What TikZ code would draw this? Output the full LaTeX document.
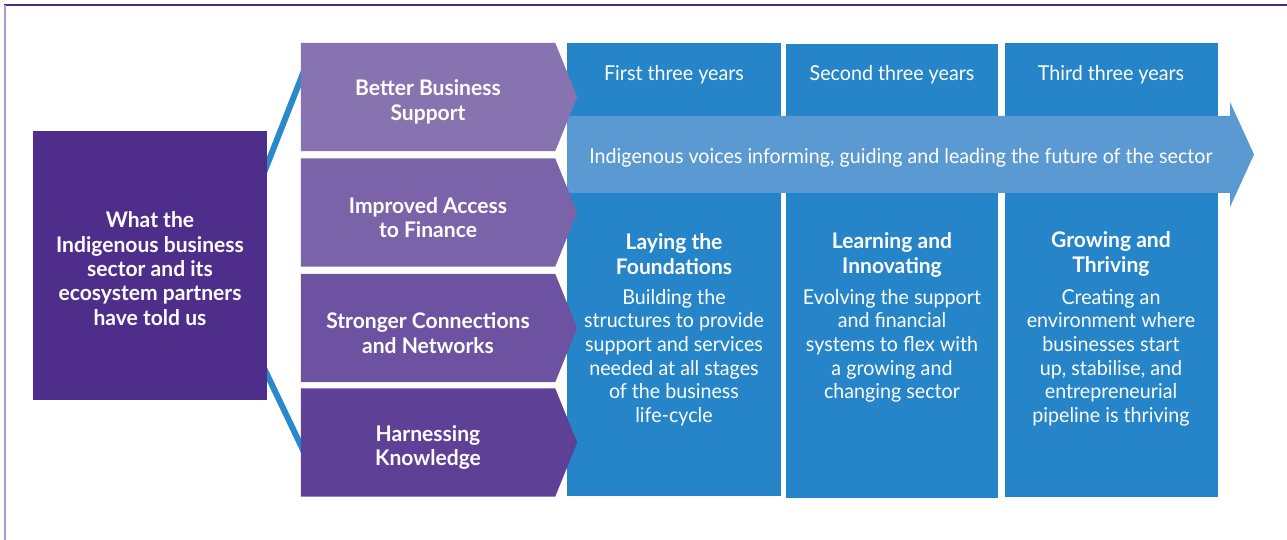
\documentclass[tikz,border=0pt]{standalone}
\usepackage{fontspec}
\setmainfont{Lato}
\newfontfamily\bodyfont[FakeStretch=0.96]{Lato}
\newfontfamily\headfont[FakeStretch=0.98]{Lato}
\usetikzlibrary{calc,backgrounds}
\definecolor{framedark}{RGB}{74,44,122}
\definecolor{framelight}{RGB}{176,154,208}
\definecolor{lboxc}{RGB}{79,46,139}
\definecolor{chA}{RGB}{135,115,176}
\definecolor{chB}{RGB}{123,99,170}
\definecolor{chC}{RGB}{108,82,160}
\definecolor{chD}{RGB}{95,64,151}
\definecolor{colblue}{RGB}{37,133,200}
\definecolor{bandblue}{RGB}{91,153,210}
\definecolor{connblue}{RGB}{42,136,204}
\tikzset{
  headtxt/.style={text=white, align=center, inner sep=0pt, font=\headfont\bfseries\fontsize{21.5}{24.4}\selectfont},
  bodytxt/.style={text=white, align=center, inner sep=0pt, font=\bodyfont\fontsize{20.5}{23.6}\selectfont},
  chevbox/.style={inner sep=0pt, minimum width=254pt, minimum height=108pt},
  colbox/.style={fill=colblue, inner sep=0pt, draw=none},
  conn/.style={draw=connblue, line width=6pt},
}
\begin{document}
\begin{tikzpicture}[x=1pt,y=-1pt]
\useasboundingbox (0,0) rectangle (1287,540);

% left box
\node[fill=lboxc, minimum width=234pt, minimum height=269pt, inner sep=0pt] (lbox) at (150,265.5) {};
\node[headtxt] (ltxt) at ($(lbox.center)+(0,3)$)
  {What the\\Indigenous business\\sector and its\\ecosystem partners\\have told us};

% chevron boxes (shapes filled on background layer)
\node[chevbox] (ch1) at (428,97) {};
\node[chevbox] (ch2) at (428,212.5) {};
\node[chevbox] (ch3) at (428,328) {};
\node[chevbox] (ch4) at (428,442.5) {};
\node[headtxt] (t1) at ($(ch1.center)+(0,5)$) {Better Business\\Support};
\node[headtxt] (t2) at ($(ch2.center)+(0,5)$) {Improved Access\\to Finance};
\node[headtxt] (t3) at ($(ch3.center)+(0,5)$) {Stronger Connections\\and Networks};
\node[headtxt] (t4) at ($(ch4.center)+(0,5)$) {Harnessing\\Knowledge};

\begin{scope}[on background layer]
\fill[white] (0,0) rectangle (1287,540);
\draw[framedark, line width=1.2pt] (4,5) -- (1287,5);
\draw[framelight, line width=2pt] (5,5) -- (5,540);
% columns
\node[colbox, minimum width=214pt, minimum height=453pt] (col1) at (674,269.5) {};
\node[colbox, minimum width=212pt, minimum height=454pt] (col2) at (892,271) {};
\node[colbox, minimum width=213pt, minimum height=454pt] (col3) at (1111.5,270) {};
% band arrow
\fill[bandblue] (567,116) -- (1230,116) -- (1230,102) -- (1254,154.5) -- (1230,207) -- (1230,193) -- (567,193) -- cycle;
% connectors
\draw[conn] ($(lbox.north east)+(-6,49)$) -- ($(ch1.west)+(4,-28.2)$);
\draw[conn] ($(lbox.south east)+(-6,-38)$) -- ($(ch4.west)+(4,11.2)$);
% chevron shapes
\foreach \n/\c in {ch1/chA,ch2/chB,ch3/chC,ch4/chD}{
  \fill[\c] (\n.north west) -- (\n.north east) -- ($(\n.east)+(22,0)$) -- (\n.south east) -- (\n.south west) -- cycle;
}
\end{scope}

% year labels
\node[bodytxt] (y1) at (674,75) {First three years};
\node[bodytxt] (y2) at (892,75) {Second three years};
\node[bodytxt] (y3) at (1111,75) {Third three years};

% band text
\node[bodytxt] (bandtxt) at (901,158) {Indigenous voices informing, guiding and leading the future of the sector};

% column headings
\node[headtxt] (h1) at (674,254) {Laying the\\Foundations};
\node[headtxt] (h2) at (892,255) {Learning and\\Innovating};
\node[headtxt] (h3) at (1111,254) {Growing and\\Thriving};

% column body texts
\node[bodytxt, anchor=north] (b1) at (674,289) {Building the\\structures to provide\\support and services\\needed at all stages\\of the business\\life-cycle};
\node[bodytxt, anchor=north] (b2) at (892,289) {Evolving the support\\and financial\\systems to flex with\\a growing and\\changing sector};
\node[bodytxt, anchor=north] (b3) at (1111,289) {Creating an\\environment where\\businesses start\\up, stabilise, and\\entrepreneurial\\pipeline is thriving};
\end{tikzpicture}
\end{document}
